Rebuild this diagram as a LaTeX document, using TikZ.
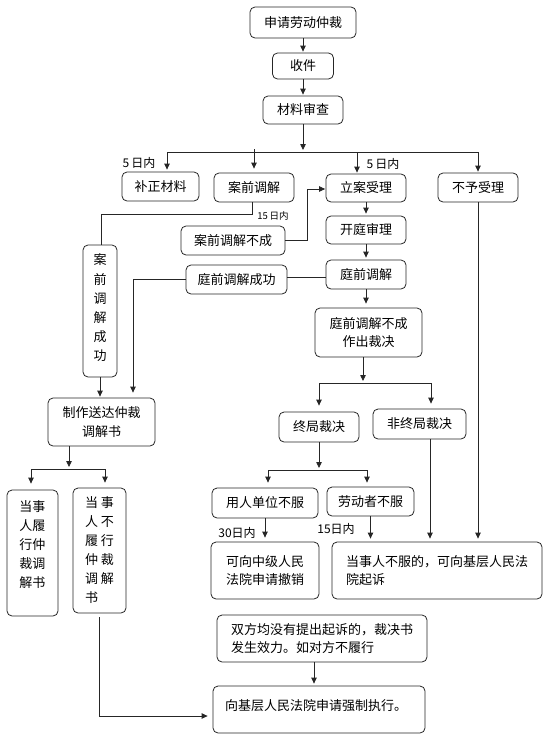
\documentclass[tikz,border=0pt]{standalone}
\usepackage{fontspec}
\setmainfont{Noto Sans CJK SC}
\usetikzlibrary{arrows.meta}
\begin{document}
\begin{tikzpicture}[x=1pt,y=-1pt,
  box/.style={draw=black!85, line width=0.8pt, rounded corners=5pt, inner sep=0pt, font=\fontsize{13}{18.5}\selectfont, align=center},
  sz/.style 2 args={minimum width=#1pt, minimum height=#2pt},
  txt/.style={inner sep=0pt, font=\fontsize{13}{18.5}\selectfont, align=center},
  lbl/.style={inner sep=0pt, font=\fontsize{12}{13}\selectfont},
  ln/.style={draw=black!85, line width=0.8pt},
  arr/.style={ln, -{Triangle[length=6pt,width=5.5pt]}, shorten >=2pt},
]
\useasboundingbox (0,0) rectangle (545,736);

% nodes
\node[box,sz={106}{31}] (a) at (303,22.5) {申请劳动仲裁};
\node[box,sz={61}{26}] (b) at (303,66) {收件};
\node[box,sz={80}{28}] (c) at (303,110) {材料审查};
\node[box,sz={77}{29}] (bz) at (160.5,186.5) {补正材料};
\node[box,sz={80}{29}] (aq) at (254,187.5) {案前调解};
\node[box,sz={80}{28}] (la) at (366,188) {立案受理};
\node[box,sz={80}{29}] (by) at (478,187.5) {不予受理};
\node[box,sz={104}{29}] (aqb) at (233,240.5) {案前调解不成};
\node[box,sz={80}{28}] (kt) at (366,230) {开庭审理};
\node[box,sz={80}{29}] (tq) at (366,274.5) {庭前调解};
\node[box,sz={101}{29}] (tcg) at (236.5,279.5) {庭前调解成功};
\node[box,sz={34}{132}] (cg) at (100,311) {};
\node[txt,font=\fontsize{13}{19.2}\selectfont] (cgt) at (100,308) {案\\前\\调\\解\\成\\功};
\node[box,sz={107}{49}] (tqb) at (368.5,332.5) {庭前调解不成\\作出裁决};
\node[box,sz={107}{48}] (zz) at (101.5,422) {制作送达仲裁\\调解书};
\node[box,sz={80}{30}] (zj) at (319,427) {终局裁决};
\node[box,sz={93}{30}] (fzj) at (419.5,424) {非终局裁决};
\node[box,sz={106}{30}] (yr) at (265,503) {用人单位不服};
\node[box,sz={87}{29}] (ld) at (370.5,501.5) {劳动者不服};
\node[box,sz={108}{57}] (zjf) at (265,570.5) {可向中级人民\\法院申请撤销};
\node[box,sz={210}{57},align=left] (dsr) at (437,570.5) {当事人不服的，可向基层人民法\\院起诉};
\node[box,sz={51}{126}] (b1) at (32.5,553) {};
\node[txt,font=\fontsize{13}{19}\selectfont] (b1t) at (32.5,545) {当事\\人履\\行仲\\裁调\\解书};
\node[box,sz={53}{125},align=left,font=\fontsize{13}{19}\selectfont] (b2) at (99.5,550.5) {当\hspace{3pt}事\\人\hspace{3pt}不\\履\hspace{3pt}行\\仲\hspace{3pt}裁\\调\hspace{3pt}解\\书};
\node[box,sz={210}{47},align=left] (sf) at (322,638.5) {双方均没有提出起诉的，裁决书\\发生效力。如对方不履行};
\node[box,sz={212}{47}] (qz) at (319,709.5) {};
\node[txt,anchor=west] (qzt) at (225,706) {向基层人民法院申请强制执行。};

% labels
\node[lbl] (l1) at (139,163) {5\,日内};
\node[lbl] (l2) at (383,164) {5\,日内};
\node[lbl,font=\fontsize{9.5}{11}\selectfont] (l3) at (273,216) {15\,日内};
\node[lbl] (l4) at (237,533) {30日内};
\node[lbl] (l5) at (336,529) {15日内};

% connectors
\draw[arr,shorten >=1pt] (a) -- (b);
\draw[arr,shorten >=1pt] (b) -- (c);
\coordinate (j1) at (303,152);
\draw[arr] (c) -- (j1);
\coordinate (h1) at (167,152);
\coordinate (h2) at (254,149);
\coordinate (h3) at (357,152);
\coordinate (h4) at (478,152);
\draw[ln] (h1) -- (h4);
\draw[arr] (h1) -- (h1 |- bz.north);
\draw[arr,shorten >=4pt] (h2) -- (aq);
\draw[arr,shorten >=1pt] (h3) -- (h3 |- la.north);
\draw[arr,shorten >=1pt] (h4) -- (by);

\coordinate (k1) at (101,214);
\draw[ln] ([xshift=-2pt]aq.south) |- (k1) -- (k1 |- cg.north);
\coordinate (k2) at (307,189);
\draw[arr,shorten >=0.5pt] (aqb.east) -| (k2) -- (k2 -| la.west);

\draw[arr] (la) -- (kt);
\draw[arr] (kt) -- (tq);
\draw[arr,shorten >=4pt] (tq.south) -- (tq.south |- tqb.north);
\draw[ln] ([yshift=2pt]tcg.east) -- ([yshift=2pt]tcg.east -| tq.west);
\coordinate (k3) at (133,398);
\draw[arr,shorten >=5pt] (tcg.west) -| (k3 |- zz.north);
\draw[arr,shorten >=1pt] (cg.south) -- (cg.south |- zz.north);

\coordinate (j2) at (363,383);
\draw[arr] ([xshift=-5.5pt]tqb.south) -- (j2);
\coordinate (h5) at (319,383);
\coordinate (h6) at (431,383);
\draw[ln] (h5) -- (h6);
\draw[arr,shorten >=6pt] (h5) -- (h5 |- zj.north);
\draw[arr,shorten >=5pt] (h6) -- (h6 |- fzj.north);

\draw[arr,shorten >=3pt] ([xshift=10.5pt]fzj.south) -- ([xshift=10.5pt]fzj.south |- dsr.north);
\draw[arr,shorten >=3pt] (by.south) -- (by.south |- dsr.north);

\coordinate (j3) at (319,470);
\draw[arr] (zj.south) -- (j3);
\coordinate (h7) at (268,470);
\coordinate (h8) at (367,470);
\draw[ln] (h7) -- (h8);
\draw[arr,shorten >=5pt] (h7) -- (h7 |- yr.north);
\draw[arr,shorten >=4pt] (h8) -- (h8 |- ld.north);
\draw[arr,shorten >=4pt] (yr.south) -- (yr.south |- zjf.north);
\draw[arr,shorten >=3pt] (ld.south) -- (ld.south |- dsr.north);

\coordinate (j4) at (69,469);
\draw[arr] (zz.south -| j4) -- (j4);
\coordinate (h9) at (31,469);
\coordinate (h10) at (105,469);
\draw[ln] (h9) -- (h10);
\draw[arr,shorten >=6pt] (h9) -- (h9 |- b1.north);
\draw[arr,shorten >=5pt] (h10) -- (h10 |- b2.north);
\draw[arr,shorten <=4pt,shorten >=5pt] (b2.south) |- ([yshift=-6.5pt]qz.west);
\draw[arr] ([xshift=-8pt]sf.south) -- ([xshift=-8pt]sf.south |- qz.north);
\end{tikzpicture}
\end{document}
